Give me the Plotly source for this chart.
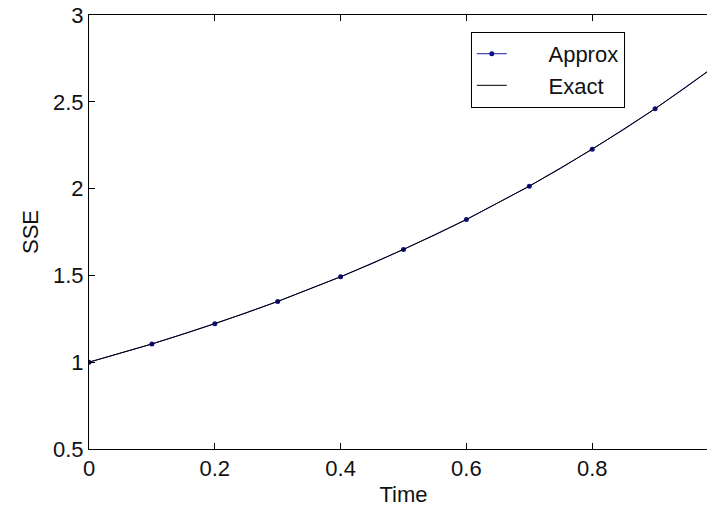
import plotly.graph_objects as go

# Approximate solution (dots every 0.1)
t_approx = [0.0, 0.1, 0.2, 0.3, 0.4, 0.5, 0.6, 0.7, 0.8, 0.9, 1.0]
sse_approx = [1.000, 1.105, 1.221, 1.350, 1.492, 1.649, 1.822, 2.014, 2.226, 2.460, 2.718]

# Exact solution (smooth curve)
t_exact = [0.0, 0.05, 0.1, 0.15, 0.2, 0.25, 0.3, 0.35, 0.4, 0.45, 0.5,
           0.55, 0.6, 0.65, 0.7, 0.75, 0.8, 0.85, 0.9, 0.95, 1.0]
sse_exact = [1.000, 1.051, 1.105, 1.162, 1.221, 1.284, 1.350, 1.419, 1.492, 1.568, 1.649,
             1.733, 1.822, 1.916, 2.014, 2.117, 2.226, 2.340, 2.460, 2.586, 2.718]

x_ticks = [0, 0.2, 0.4, 0.6, 0.8, 1.0]
x_labels = ["0", "0.2", "0.4", "0.6", "0.8", "1"]
y_ticks = [0.5, 1, 1.5, 2, 2.5, 3]
y_labels = ["0.5", "1", "1.5", "2", "2.5", "3"]

FONT = "Liberation Sans, Arial, sans-serif"
FS = 22
PAD = "\u00a0" * 6

fig = go.Figure()
fig.add_trace(go.Scatter(
    x=t_approx, y=sse_approx, mode="lines+markers", name=PAD + "Approx",
    line=dict(color="#1a1aa0", width=1),
    marker=dict(color="#10108a", size=5, symbol="circle"),
))
fig.add_trace(go.Scatter(
    x=t_exact, y=sse_exact, mode="lines", name=PAD + "Exact",
    line=dict(color="black", width=1),
))

fig.update_layout(
    width=715, height=509,
    margin=dict(l=81, r=5, t=7, b=68),
    paper_bgcolor="white", plot_bgcolor="white",
    font=dict(family=FONT, size=FS, color="#111111"),
    showlegend=True,
    legend=dict(
        x=0.607, y=0.961, xanchor="left", yanchor="top",
        bgcolor="white", bordercolor="black", borderwidth=1,
        font=dict(family=FONT, size=FS, color="#111111"),
        tracegroupgap=0,
    ),
    xaxis=dict(
        range=[0, 1], tickvals=x_ticks, ticktext=x_labels,
        showgrid=False, zeroline=False, automargin=False,
        showline=True, linecolor="black", linewidth=1, mirror="ticks",
        ticks="inside", ticklen=6, tickcolor="black", tickwidth=1,
        ticklabeloverflow="allow",
        title=dict(text="Time", standoff=6, font=dict(size=FS)),
        tickfont=dict(size=FS),
    ),
    yaxis=dict(
        range=[0.5, 3], tickvals=y_ticks, ticktext=y_labels,
        showgrid=False, zeroline=False, automargin=False,
        showline=True, linecolor="black", linewidth=1, mirror="ticks",
        ticks="inside", ticklen=6, tickcolor="black", tickwidth=1,
        ticklabeloverflow="allow",
        title=dict(text="SSE", standoff=8, font=dict(size=FS)),
        tickfont=dict(size=FS),
    ),
)

fig.write_html("out.html")
